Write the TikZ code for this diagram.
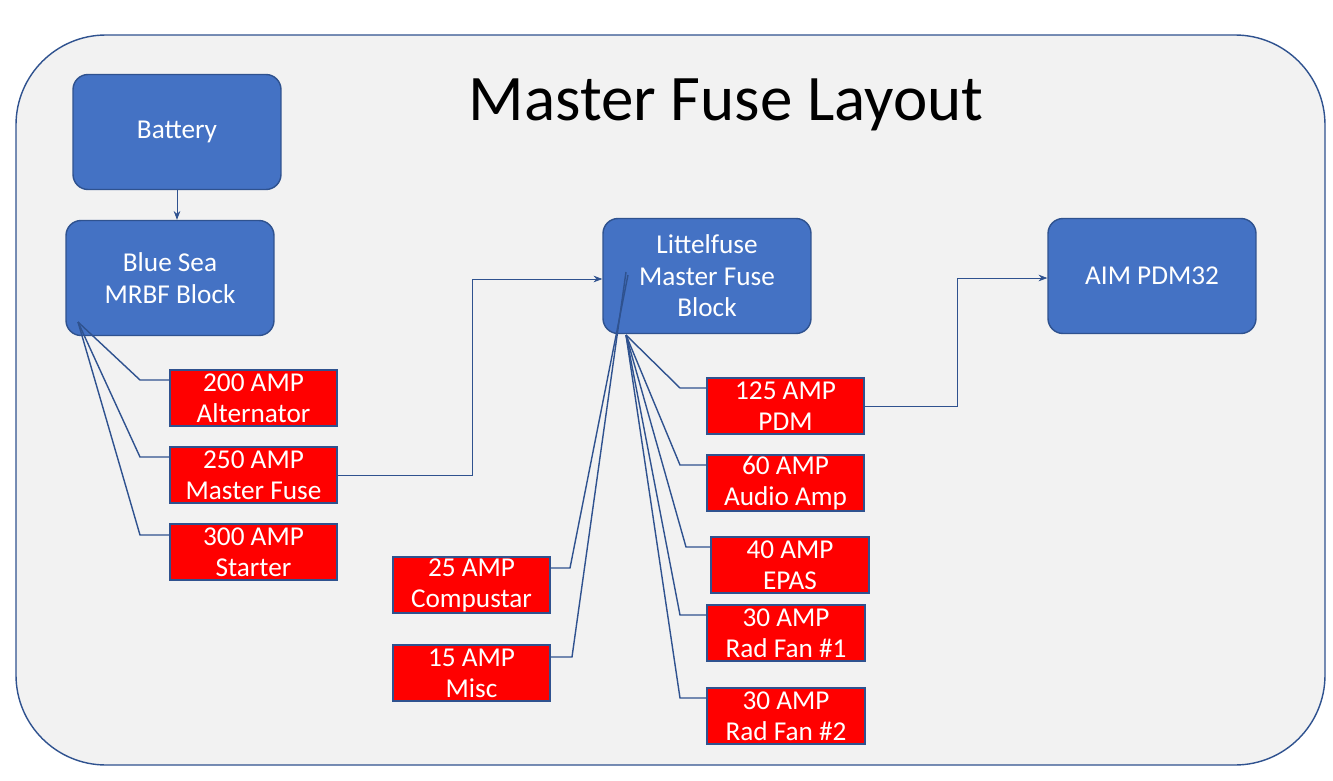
\documentclass[tikz,border=0pt]{standalone}
\usepackage{fontspec}
\setmainfont{Carlito}
\usetikzlibrary{arrows.meta,positioning}
\definecolor{panel}{HTML}{F2F2F2}
\definecolor{edge}{HTML}{2F528F}
\definecolor{boxblue}{HTML}{4472C4}
\tikzset{
  block/.style={draw=edge, fill=boxblue, rounded corners=0.3cm, thick, text=white,
    minimum width=4.16cm, minimum height=2.3cm, align=center, font=\fontsize{15.5}{18}\selectfont},
  fuse/.style={draw=edge, fill=red, thick, text=white, inner sep=0pt,
    minimum width=3.34cm, minimum height=1.12cm, align=center, font=\fontsize{15.5}{17.5}\selectfont},
  wire/.style={draw=edge, thick},
  feed/.style={draw=edge, -{Stealth[length=5pt]}}
}
\begin{document}
\begin{tikzpicture}[x=0.02cm, y=-0.02cm]
        \useasboundingbox (0,0) rectangle (1333,781);
        \draw[draw=edge, fill=panel, thick, rounded corners=1.8cm] (16,35) rectangle (1325,765);
        \node (title) at (726,105) {\fontsize{37}{40}\selectfont Master Fuse Layout};

        \node (battery)[block] at (177,132) {Battery};
        \node (bluesea)[block] at (170,278) {Blue Sea\\MRBF Block};
        \node (littel)[block] at (707,276) {Littelfuse\\Master Fuse\\Block};
        \node (pdm32)[block] at (1152,276) {AIM PDM32};

        \node (alt)[fuse] at (253.5,398) {200 AMP\\Alternator};
        \node (mfuse)[fuse] at (253.5,475) {250 AMP\\Master Fuse};
        \node (start)[fuse] at (253.5,552) {300 AMP\\Starter};
        \node (comp)[fuse, minimum width=3.14cm] at (471.5,585) {25 AMP\\Compustar};
        \node (misc)[fuse, minimum width=3.14cm] at (471.5,673) {15 AMP\\Misc};
        \node (pdm)[fuse, minimum width=3.14cm] at (785.5,406) {125 AMP\\PDM};
        \node (audio)[fuse, minimum width=3.14cm] at (785.5,483) {60 AMP\\Audio Amp};
        \node (epas)[fuse, minimum width=3.16cm] at (790,565) {40 AMP\\EPAS};
        \node (fan1)[fuse, minimum width=3.16cm] at (786,633) {30 AMP\\Rad Fan \#1};
        \node (fan2)[fuse, minimum width=3.16cm] at (786,716) {30 AMP\\Rad Fan \#2};

        \coordinate (bshub) at (78,322);
        \coordinate (lfhub) at (626,335);

        \draw[feed] (battery.south) -- (battery.south |- bluesea.north);
        \draw[wire] (bshub) -- (140,380) -- (alt.west |- 0,380);
        \draw[wire] (bshub) -- (140,457) -- (mfuse.west |- 0,457);
        \draw[wire] (bshub) -- (140,535) -- (start.west |- 0,535);
        \draw[feed] (mfuse.east) -| (472,279) -- (littel.west |- 0,279);

        \draw[wire] (lfhub) -- (680,388) -- (pdm.west |- 0,388);
        \draw[wire] (lfhub) -- (680,465) -- (audio.west |- 0,465);
        \draw[wire] (lfhub) -- (686,547) -- (epas.west |- 0,547);
        \draw[wire] (lfhub) -- (680,615) -- (fan1.west |- 0,615);
        \draw[wire] (lfhub) -- (680,698) -- (fan2.west |- 0,698);
        \draw[wire] (comp.east |- 0,568) -- (570,568) -- (628,275);
        \draw[wire] (misc.east |- 0,657) -- (572,657) -- (626,272);
        \draw[feed] (pdm.east) -| (957,278) -- (pdm32.west |- 0,278);
\end{tikzpicture}
\end{document}
